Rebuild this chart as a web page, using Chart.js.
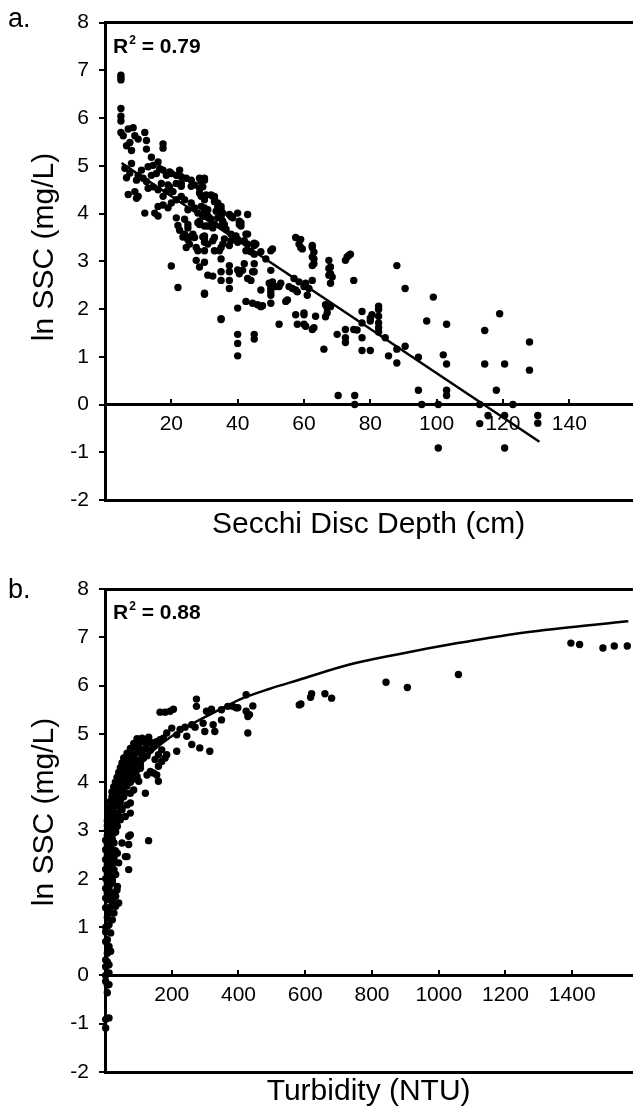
<!DOCTYPE html>
<html>
<head>
<meta charset="utf-8">
<script src="https://cdn.jsdelivr.net/npm/chart.js@4"></script>
<style>
  body { margin: 0; background: #fff; width: 636px; height: 1111px; overflow: hidden; position: relative; }
  canvas { position: absolute; left: 0; }
  #chartA { top: 0; }
  #chartB { top: 560px; }
</style>
</head>
<body>
<canvas id="chartA" width="636" height="560"></canvas>
<canvas id="chartB" width="636" height="551"></canvas>
<script>
// panel a: Secchi depth (cm) vs ln SSC
const secchiPoints = [
  [4.8,6.9],[4.8,6.85],[4.8,6.8],[4.8,6.2],[4.8,6.04],[4.8,5.94],
  [4.8,5.7],[5.5,5.63],[7,5.77],[8.5,5.8],[9,5.63],[10,5.56],[7.5,5.49],[6.5,5.42],[8,5.32],[12,5.7],[12.5,5.53],[12.5,5.35],[17.5,5.46],[17.5,5.37],
  [14,5.18],[16,5.08],[13,4.98],[11,4.91],[10,4.8],[11.5,4.74],[12.5,4.67],[9.5,4.7],[9,4.46],[10,4.36],[14,4.8],[15.5,4.84],[17.5,4.91],[18.5,4.8],
  [20,4.84],[21.5,4.8],[22.5,4.91],[23,4.77],[23,4.63],[24.5,4.74],[26,4.7],[27,4.6],[29,4.7],[30,4.74],[28.5,4.53],[29,4.36],[30,4.29],[32,4.39],
  [33,4.36],[34,4.22],[35,4.15],[35.5,4.01],[38,3.95],[40,4.01],[41,3.81],[12,4.01],[15,4.01],[16,4.15],[17.5,4.18],[19,4.12],[20,4.22],[21.5,4.29],
  [23,4.36],[24,4.29],[26,4.22],[25,4.08],[27,4.12],[28,4.01],[29,4.15],[30,4.05],[31,3.95],[32,3.88],[24,3.88],[25,3.77],[28,3.81],[30,3.74],
  [33,3.77],[35,3.74],[16,3.95],[17.5,4.36],[18.5,4.46],[19.5,4.56],[20.5,4.46],[21.5,4.63],[16,4.5],[17,4.63],[14.5,4.56],[13,4.53],
  [6,4.95],[7.5,4.85],[8,5.05],[6.5,4.75],[9.5,4.32],[7,4.4],[14.5,5.01],[16.5,4.94],[19.5,4.87],[26,4.57],[28.5,4.74],[19,4.6],[23,4.57],
  [29,4.67],[29.5,4.56],[28.5,4.43],[30.5,4.39],[33,4.32],[30,4.12],[31,4.08],[29.5,3.94],[31.5,3.91],[28.5,3.84],[33.5,4.05],[34,3.91],
  [33,3.77],[35,3.94],[35.5,3.84],[31,3.74],[32.5,3.7],[30,4.7],[32.5,4.36],[33,4.25],[34,4.15],[35,4.08],[38,3.94],[40.5,3.84],[41,3.74],
  [36,3.77],[36.5,3.67],[38,3.57],[39.5,3.53],[40,3.46],[43,3.57],[43,3.36],[45,3.33],[42.5,3.22],[45,3.15],[30,3.53],[30,3.4],[30,3.22],
  [30,2.98],[32.5,3.43],[33,3.22],[35,3.29],[35.5,3.36],[37.5,3.33],[31,2.71],[35,3.05],[35,2.78],[35,2.6],[37.5,2.91],[37.5,2.78],[37.5,2.6],
  [37.5,2.43],[40.5,2.74],[41.5,2.81],[42,2.95],[44.5,2.78],[45,2.95],[44,2.6],[30,2.33],[35,1.78],[40,2.02],[42.5,2.16],[44.5,2.12],[46,2.09],
  [47,2.05],[47,2.4],[49.5,2.54],[50,2.43],[50.5,2.57],[51.5,2.47],[52.5,2.47],[50,2.81],[50,2.36],[50,2.29],[50,2.12],[55,2.19],[50,3.22],
  [50.5,3.26],[57,2.64],[57.5,2.4],[58,2.36],[52.5,1.68],[57.5,1.88],[58,1.68],[60,1.88],[60.5,1.64],[63,1.61],[63.5,1.85],[66.5,2.09],[67,1.92],
  [68,2.05],[57.5,3.5],[59,3.46],[59,3.29],[62.5,3.33],[63,3.19],[63,3.05],[63,2.95],[67.5,3.02],[68,2.88],[68,2.74],[68,2.54],[73,3.09],
  [74,3.15],[75,2.6],[60.5,2.54],[61.5,2.43],[55.5,2.47],[56.5,2.43],
  [21.5,3.91],[22,3.75],[22.5,3.65],[23.5,3.51],[24,3.57],[25,3.7],[25.5,3.51],[26.5,3.57],[28.5,3.77],[29.5,3.51],[25.5,3.36],[27.5,3.29],
  [28,3.22],[31,3.36],[34.5,3.22],[24.5,3.29],[40.5,3.77],[42.5,3.57],[45.5,3.36],[43,3.98],[38.5,3.91],[37.5,3.98],
  [25,3.45],[27,3.5],[30,3.47],[33,3.5],[36,3.47],[38,3.43],[40,3.4],[42,3.43],[45,3.38],[44,3.2],[47,3.2],[48.5,3.05],
  [20,2.9],[22,2.45],[30,2.31],[27.5,3.02],[28.5,2.88],[32.5,2.69],[40,2.82],[40,1.47],[40,1.28],[40,1.02],[43,2.64],[45,2.78],
  [47.5,2.07],[45,1.47],[45,1.37],[53,2.54],[54.5,2.16],[60,2.47],[60,1.92],[62.5,1.57],[58.5,3.36],[59.5,3.26],[35,1.8],
  [62.5,3.29],[62.5,3.09],[62.5,2.91],[62.5,2.6],[58.5,2.57],[61,2.29],[60,1.68],[66,1.16],[67,2.02],[66.5,1.84],[67.5,2.85],[67.5,2.71],
  [68.5,2.67],[72.5,3.02],[73.5,3.12],[70,1.47],[72.5,1.57],[72.5,1.4],[72.5,1.3],[75,1.57],[76,1.56],[77.5,1.95],[77.5,1.71],[77.5,1.4],
  [77.5,1.13],[80,1.81],[80,1.75],[80,1.13],[80.5,1.88],[82.5,2.06],[82.5,1.99],[82.5,1.85],[82.5,1.71],[82.5,1.61],[82.5,1.52],[84.5,1.4],
  [85.5,1.02],[88,2.91],[88,1.16],[88,0.87],[90.5,2.43],[90.5,1.22],[94.5,0.99],[97,1.75],[99,2.25],[94.5,0.3],[95.5,0.0],[100.5,0.0],
  [100.5,-0.91],[102,1.04],[103,0.85],[103,1.68],[103,0.3],[103,0.19],[113,0.0],[113,-0.4],[115.5,-0.23],[114.5,1.55],[114.5,0.85],[118,0.3],
  [119,1.9],[120.5,0.85],[120.5,-0.23],[120.5,-0.91],[123,0.0],[128,1.31],[128,0.72],[130.5,-0.23],[130.5,-0.39],[70.3,0.19],[75.3,0.19],[75.3,0.0]
];
const secchiFit = [[5, 5.06], [131, -0.78]];
const secchiTicks = [20, 40, 60, 80, 100, 120, 140];

// panel b: turbidity (NTU) vs ln SSC
const turbPoints = [
  [2,0.32],[7,0.28],[12,0.22],[2,0.18],[12,0.05],[2,0.0],[2,-0.12],[7,-0.2],[12,-0.19],[7,-0.36],[12,-0.88],[2,-0.91],[2,-1.09],
  [17,0.88],[2,0.9],[7,0.74],[2,0.7],[12,0.6],[17,0.5],[7,0.46],
  [2,1.0],[7,1.02],[12,1.05],[7,1.2],[22,1.15],[12,1.29],[27,1.29],[2,1.4],[17,1.42],[32,1.43],[7,1.57],[22,1.52],[41,1.5],[2,1.6],[17,1.62],
  [32,1.64],[7,1.7],[27,1.71],[2,1.8],[12,1.82],[37,1.84],[36,1.77],[7,1.9],[22,1.91],[2,2.0],[12,2.05],[22,1.98],[7,2.1],[17,2.12],[32,2.09],
  [2,2.2],[12,2.22],[27,2.19],[71,2.19],[7,2.3],[22,2.3],[41,2.33],[2,2.4],[12,2.38],[17,2.4],[27,2.42],[7,2.5],[22,2.48],[37,2.53],[61,2.46],
  [66,2.46],[2,2.6],[12,2.62],[17,2.6],[31,2.58],[7,2.7],[17,2.68],[27,2.74],[51,2.74],[71,2.71],[2,2.8],[12,2.78],[22,2.82],[71,2.88],
  [130.6,2.79],[7,2.9],[17,2.88],[27,2.95],[76,2.91],[7,3.0],[12,2.98],[22,3.02],[32,2.97],[7,3.1],[17,3.12],[26,3.08],[37,3.09],[7,3.2],
  [16,3.18],[31,3.2],[46,3.22],[11,3.3],[16,3.28],[26,3.32],[41,3.3],[61,3.29],[11,3.4],[21,3.43],[26,3.38],[36,3.36],[51,3.43],[76,3.36],
  [16,3.5],[21,3.48],[31,3.52],[41,3.5],[46,3.5],[16,3.6],[26,3.62],[36,3.58],[46,3.6],[66,3.53],[76,3.57],[21,3.7],[26,3.68],[36,3.72],
  [46,3.7],[56,3.7],[21,3.8],[31,3.78],[41,3.82],[51,3.8],[61,3.78],[86,3.84],[76,3.77],[26,3.9],[36,3.92],[46,3.88],[56,3.9],[66,3.92],
  [31,4.0],[41,3.98],[51,4.02],[61,3.98],[76,4.0],[101,4.02],[121,3.77],[36,4.1],[46,4.12],[56,4.08],[71,4.1],[86,4.1],[41,4.2],[51,4.18],
  [66,4.22],[81,4.2],[91,4.16],[126,4.15],[46,4.3],[56,4.28],[71,4.33],[86,4.3],[96,4.26],[51,4.4],[61,4.4],[76,4.38],[91,4.42],[106,4.36],
  [56,4.5],[71,4.48],[86,4.52],[101,4.46],[116,4.5],[66,4.6],[81,4.57],[96,4.62],[111,4.58],[126,4.55],[76,4.7],[91,4.72],[106,4.68],
  [121,4.7],[136,4.66],[86,4.8],[101,4.78],[116,4.84],[126,4.8],[141,4.82],[96,4.9],[111,4.91],[121,4.88],[131,4.93],
  [145,4.74],[155,4.84],[160,4.57],[150,4.47],[160,4.33],[136,4.22],[145,4.19],[155,4.15],[160,4.02],[106,4.29],[96,4.12],[81,4.05],
  [66,3.98],[61,4.4],[71,4.33],[165,4.88],[175,4.91],[170,4.67],[215,4.64],[185,4.57],[170,4.43],[180,4.5],
  [200,5.12],[225,5.09],[245,4.95],[215,4.98],[185,5.02],[260,4.78],[284,4.71],[314,4.64],[260,5.19],[270,5.14],[240,5.14],
  [165,5.45],[180,5.45],[195,5.47],[205,5.51],[274,5.72],[274,5.57],
  [304,5.47],[319,5.51],[349,5.5],[368,5.57],[393,5.54],[423,5.47],[443,5.58],[428,5.36],[433,5.4],
  [324,5.19],[329,5.05],[349,5.29],[294,5.22],[299,5.05],[428,5.02],[423,5.81],[383,5.57],[398,5.54],
  [587,5.62],[582,5.6],[616,5.76],[619,5.83],[659,5.83],[679,5.74],[842,6.07],[906,5.96],[1059,6.23],
  [1396,6.88],[1422,6.85],[1492,6.78],[1526,6.82],[1565,6.82]
];
const turbFit = [[100,4.3],[136,4.6],[185,4.88],[264,5.22],[334,5.47],[403,5.71],[492,5.93],[582,6.12],
  [730,6.43],[879,6.65],[1057,6.88],[1226,7.07],[1394,7.21],[1568,7.33]];
const turbTicks = [200, 400, 600, 800, 1000, 1200, 1400];

const yTicks = { min: -2, max: 8, step: 1 };

const FONT = '"Liberation Sans", Arial, sans-serif';
Chart.defaults.font.family = FONT;
Chart.defaults.color = '#000';

// panel letter, R2 box and rotated y title
const decor = {
  id: 'decor',
  afterDraw(chart, args, o) {
    const ctx = chart.ctx, a = chart.chartArea;
    ctx.save();
    ctx.fillStyle = '#000';
    ctx.font = '27px ' + FONT;
    ctx.fillText(o.label, 8, o.labelY);

    let x = a.left + 8, y = a.top + 30;
    ctx.font = 'bold 21px ' + FONT;
    ctx.fillText('R', x, y);
    x += ctx.measureText('R').width + 1;
    ctx.font = 'bold 12px ' + FONT;
    ctx.fillText('2', x, y - 9);
    x += ctx.measureText('2').width;
    ctx.font = 'bold 21px ' + FONT;
    ctx.fillText(' = ' + o.r2, x, y);

    ctx.translate(45, o.yTitleY);
    ctx.rotate(-Math.PI / 2);
    ctx.font = '30px ' + FONT;
    ctx.textAlign = 'center';
    ctx.textBaseline = 'middle';
    ctx.fillText('ln SSC (mg/L)', 0, 0);
    ctx.restore();
  }
};

function makePanel(id, p) {
  const border = { display: true, width: 3, color: '#000' };
  new Chart(document.getElementById(id), {
    type: 'scatter',
    data: {
      datasets: [{
        data: p.points.map(([x, y]) => ({ x, y })),
        pointRadius: 3.7,
        pointHoverRadius: 3.7,
        backgroundColor: '#000',
        borderWidth: 0,
        clip: false
      }, {
        type: 'line',
        data: p.fit.map(([x, y]) => ({ x, y })),
        borderColor: '#000',
        borderWidth: 2.5,
        pointRadius: 0,
        cubicInterpolationMode: 'monotone',
        fill: false
      }]
    },
    options: {
      responsive: false,
      animation: false,
      events: [],
      layout: { padding: { top: p.padTop, left: 0, right: 0, bottom: 0 } },
      plugins: {
        legend: { display: false },
        tooltip: { enabled: false },
        decor: { label: p.label, labelY: p.labelY, r2: p.r2, yTitleY: p.yTitleY }
      },
      scales: {
        x: {
          type: 'linear', position: 'bottom', min: 0, max: p.xMax,
          ticks: { display: false },
          grid: { display: false },
          border: border,
          title: { display: true, text: p.xTitle, font: { size: 30 }, color: '#000', padding: { top: 0, bottom: p.xTitlePad } },
          afterFit: s => { s.height = p.bottomH; }
        },
        xZero: {
          axis: 'x', type: 'linear', position: { y: 0 }, min: 0, max: p.xMax,
          ticks: { autoSkip: false, maxRotation: 0, font: { size: 21 }, color: '#000', padding: 14, callback: v => v },
          afterBuildTicks: s => { s.ticks = p.xTicks.map(v => ({ value: v })); },
          grid: { drawOnChartArea: false, drawTicks: true, tickLength: -7, color: '#000', lineWidth: 2 },
          border: border
        },
        xTop: {
          axis: 'x', type: 'linear', position: 'top', min: 0, max: p.xMax,
          ticks: { display: false },
          grid: { display: false },
          border: border,
          afterFit: s => { s.height = 0; }
        },
        y: {
          type: 'linear', position: 'left', min: yTicks.min, max: yTicks.max,
          ticks: { stepSize: yTicks.step, font: { size: 21 }, color: '#000', padding: 10 },
          grid: { drawOnChartArea: false, drawTicks: true, tickLength: 6, color: '#000', lineWidth: 2 },
          border: border,
          afterFit: s => { s.width = 105; }
        }
      }
    },
    plugins: [decor]
  });
}

makePanel('chartA', {
  points: secchiPoints, fit: secchiFit, xMax: 159, xTicks: secchiTicks,
  xTitle: 'Secchi Disc Depth (cm)', label: 'a.', labelY: 27, r2: '0.79',
  padTop: 15, bottomH: 60, xTitlePad: 17, yTitleY: 247
});

makePanel('chartB', {
  points: turbPoints, fit: turbFit, xMax: 1580, xTicks: turbTicks,
  xTitle: 'Turbidity (NTU)', label: 'b.', labelY: 38, r2: '0.88',
  padTop: 29, bottomH: 39, xTitlePad: 1, yTitleY: 252
});
</script>
</body>
</html>
